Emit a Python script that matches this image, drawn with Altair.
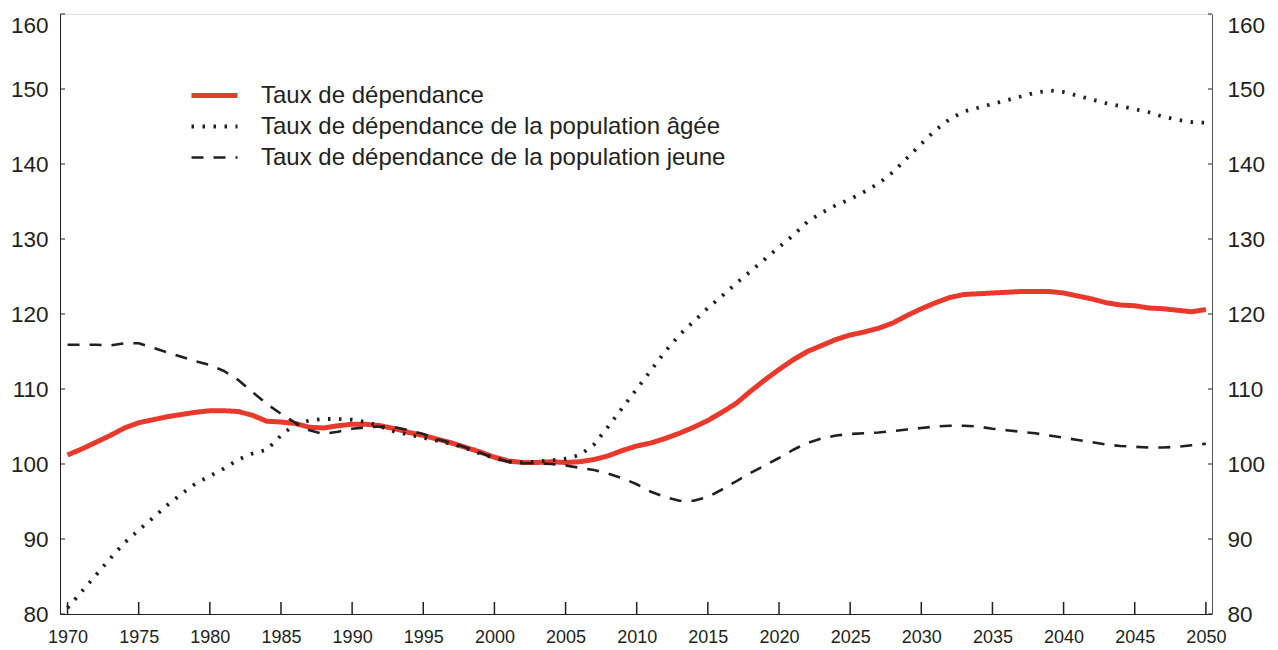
import altair as alt
import pandas as pd

years = list(range(1970, 2051))

total = [101.2, 102.0, 102.9, 103.8, 104.8, 105.5, 105.9, 106.3, 106.6, 106.9,
         107.1, 107.1, 107.0, 106.5, 105.7, 105.6, 105.4, 104.9, 104.8, 105.1,
         105.3, 105.3, 105.1, 104.7, 104.2, 103.8, 103.3, 102.8, 102.2, 101.6,
         100.9, 100.4, 100.2, 100.2, 100.3, 100.2, 100.3, 100.6, 101.1, 101.8,
         102.4, 102.8, 103.4, 104.1, 104.9, 105.8, 106.9, 108.1, 109.7, 111.2,
         112.6, 113.9, 115.0, 115.8, 116.6, 117.2, 117.6, 118.1, 118.8, 119.8,
         120.7, 121.5, 122.2, 122.6, 122.7, 122.8, 122.9, 123.0, 123.0, 123.0,
         122.8, 122.4, 122.0, 121.5, 121.2, 121.1, 120.8, 120.7, 120.5, 120.3,
         120.6]

old = [80.8, 83.0, 85.2, 87.4, 89.5, 91.2, 92.8, 94.5, 96.0, 97.4,
       98.4, 99.4, 100.6, 101.4, 101.9, 103.8, 105.3, 105.8, 106.0, 106.0,
       105.9, 105.6, 105.0, 104.3, 103.9, 103.5, 103.1, 102.7, 102.1, 101.4,
       100.8, 100.3, 100.2, 100.3, 100.5, 100.7, 101.2, 102.6, 105.0, 107.5,
       110.0, 112.5, 115.0, 117.2, 119.0, 120.8, 122.4, 124.1, 125.7, 127.3,
       128.9, 130.5, 132.3, 133.5, 134.5, 135.3, 136.3, 137.4, 138.9, 140.8,
       142.7, 144.5, 146.0, 147.0, 147.5, 148.0, 148.5, 149.0, 149.5, 149.8,
       149.6, 149.1, 148.6, 148.1, 147.7, 147.3, 146.9, 146.3, 145.9, 145.6,
       145.5]

young = [115.9, 115.9, 115.9, 115.8, 116.1, 116.1, 115.5, 114.9, 114.3, 113.7,
         113.2, 112.4, 111.2, 109.6, 108.0, 106.7, 105.5, 104.5, 104.0, 104.3,
         104.7, 104.9, 105.0, 104.9, 104.5, 104.0, 103.3, 102.8, 102.2, 101.5,
         100.8, 100.3, 100.1, 100.1, 100.0, 99.8, 99.5, 99.2, 98.7, 98.1,
         97.3, 96.3, 95.6, 95.1, 95.1, 95.6, 96.6, 97.7, 98.8, 99.8,
         100.8, 101.9, 102.8, 103.4, 103.8, 104.0, 104.1, 104.2, 104.4, 104.6,
         104.8, 105.0, 105.1, 105.1, 105.0, 104.7, 104.5, 104.3, 104.1, 103.8,
         103.5, 103.2, 102.9, 102.6, 102.4, 102.3, 102.2, 102.2, 102.3, 102.5,
         102.7]

series_names = [
    "Taux de dépendance",
    "Taux de dépendance de la population âgée",
    "Taux de dépendance de la population jeune",
]

x_ticks = list(range(1970, 2051, 5))
y_ticks = list(range(80, 161, 10))

rows = []
for name, vals in zip(series_names, [total, old, young]):
    for yr, v in zip(years, vals):
        rows.append({"year": yr, "value": v, "serie": name})
df = pd.DataFrame(rows)
xt = pd.DataFrame({"year": x_ticks})
yt = pd.DataFrame({"v": y_ticks})

W, H = 1152, 600
INK = "#231f20"
FONT = "Liberation Sans"

xscale = alt.Scale(domain=[1969.47, 2050.43], nice=False, zero=False)
yscale = alt.Scale(domain=[80, 160], nice=False, zero=False)

flush = {"expr": "datum.value == 160 ? 'top' : 'middle'"}

xaxis = alt.Axis(values=x_ticks, format="d", ticks=False, grid=False,
                 labelFontSize=18, labelPadding=14, labelColor=INK,
                 domainColor=INK, labelFont=FONT, title=None)
yaxis_left = alt.Axis(values=y_ticks, ticks=False, grid=False, labelFontSize=22.5,
                      labelPadding=12, labelColor=INK, domainColor=INK,
                      labelFont=FONT, title=None, labelBaseline=flush)
yaxis_right = alt.Axis(values=y_ticks, ticks=False, grid=False, labelFontSize=22.5,
                       orient="right", labelPadding=15, labelColor=INK,
                       domainColor="#555555", labelFont=FONT, title=None,
                       labelBaseline=flush)


def make_legend():
    return alt.Legend(orient="none", legendX=129, legendY=67.5,
                      title=None, symbolType="stroke",
                      symbolSize=2116, labelFontSize=24,
                      labelFont=FONT, labelColor=INK,
                      labelOffset=21, rowPadding=3, clipHeight=28,
                      labelLimit=0, padding=0)


lines = alt.Chart(df).mark_line(strokeCap="butt", strokeJoin="round").encode(
    x=alt.X("year:Q", scale=xscale, axis=xaxis),
    y=alt.Y("value:Q", scale=yscale, axis=yaxis_left),
    color=alt.Color("serie:N", sort=series_names,
                    scale=alt.Scale(domain=series_names, range=["#e8392d", INK, INK]),
                    legend=make_legend()),
    strokeDash=alt.StrokeDash("serie:N", sort=series_names,
                              scale=alt.Scale(domain=series_names,
                                              range=[[1, 0], [2.5, 8.5], [12, 10]]),
                              legend=make_legend()),
    strokeWidth=alt.StrokeWidth("serie:N", sort=series_names,
                                scale=alt.Scale(domain=series_names, range=[5, 2.6, 2.8]),
                                legend=make_legend()),
    order=alt.Order("year:Q"),
)

xticks = alt.Chart(xt).mark_rule(color=INK, strokeWidth=1.5).encode(
    x=alt.X("year:Q", scale=xscale),
    y=alt.value(H), y2=alt.value(H - 12),
)

yticks_left = alt.Chart(yt).mark_rule(color=INK, strokeWidth=1).encode(
    y=alt.Y("v:Q", scale=yscale),
    x=alt.value(0), x2=alt.value(5),
)

yticks_right = alt.Chart(yt).mark_rule(color=INK, strokeWidth=1).encode(
    y=alt.Y("v:Q", scale=yscale, axis=yaxis_right),
    x=alt.value(W), x2=alt.value(W - 4),
)

left = alt.layer(xticks, yticks_left, lines)
chart = alt.layer(left, yticks_right).resolve_scale(y="independent").properties(
    width=W, height=H,
    autosize=alt.AutoSizeParams(type="none"),
    padding={"left": 52, "top": 6, "right": 58, "bottom": 36},
).configure_view(stroke=INK, strokeWidth=1.2).configure(background="white")

chart.save("out.html", embed_options={"renderer": "svg", "actions": False})
